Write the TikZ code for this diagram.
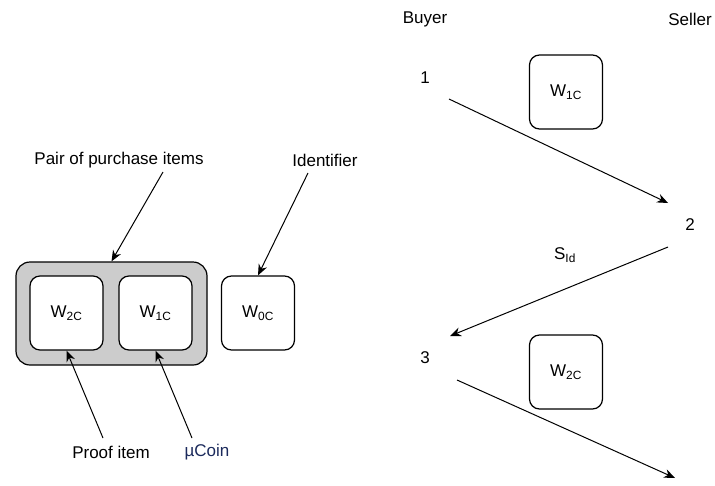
\documentclass[tikz,border=0pt]{standalone}
\usepackage{fontspec}
\setmainfont{Liberation Sans}
\usepackage{tikz}
\usetikzlibrary{arrows.meta}

\definecolor{groupgray}{HTML}{CCCCCC}
\definecolor{coinblue}{HTML}{1B2A5C}

\tikzset{
    wbox/.style={draw, rounded corners=10pt, line width=1.2pt, fill=white,
        minimum width=73pt, minimum height=74pt, inner sep=0pt},
    groupbox/.style={draw, rounded corners=14pt, line width=1.2pt, fill=groupgray,
        minimum width=191pt, minimum height=103pt, inner sep=0pt},
    lbl/.style={inner sep=0pt},
    msg/.style={-{Stealth[length=11pt,width=9pt]}, line width=1pt}
}

\begin{document}
\begin{tikzpicture}[x=1pt,y=-1pt,font=\fontsize{17}{20}\selectfont]
    \useasboundingbox (0,0) rectangle (715,485);

    % left part
    \node[lbl] (pairlbl) at (119,160) {Pair of purchase items};
    \node[lbl] (idlbl) at (325,160) {Identifier};

    \node[groupbox] (pair) at (111.5,313.5) {};
    \node[wbox] (wtwo) at (66.5,313) {W\textsubscript{2C}};
    \node[wbox] (wone) at (155.5,313) {W\textsubscript{1C}};
    \node[wbox] (wzero) at (258,313) {W\textsubscript{0C}};

    \node[lbl] (prooflbl) at (111,452) {Proof item};
    \node[lbl, text=coinblue] (coinlbl) at (207,452) {µCoin};

    \coordinate (pairtail) at (163,172);
    \coordinate (idtail) at (308,173);
    \coordinate (prooftail) at (103,438);
    \coordinate (cointail) at (192,438);

    \path
        (pairtail)
            edge [msg] (pair.north)
        (idtail)
            edge [msg] (wzero.north)
        (prooftail)
            edge [msg] (wtwo.south)
        (cointail)
            edge [msg] (wone.south)
    ;

    % right part
    \node[lbl] (buyer) at (425,19) {Buyer};
    \node[lbl] (seller) at (690,19) {Seller};

    \node[lbl] (stepone) at (425,78) {1};
    \node[lbl] (steptwo) at (690,225) {2};
    \node[lbl] (stepthree) at (425,358) {3};

    \node[wbox] (sendone) at (566,92) {W\textsubscript{1C}};
    \node[wbox] (sendtwo) at (566,372) {W\textsubscript{2C}};
    \node[lbl] (sid) at (565,255) {S\textsubscript{Id}};

    \coordinate (oneout) at (449,99);
    \coordinate (twoin) at (668,203);
    \coordinate (twoout) at (668,247);
    \coordinate (threein) at (450,336);
    \coordinate (threeout) at (457,380);
    \coordinate (fourin) at (675,478);

    \path
        (oneout)
            edge [msg] (twoin)
        (twoout)
            edge [msg] (threein)
        (threeout)
            edge [msg] (fourin)
    ;
\end{tikzpicture}
\end{document}
